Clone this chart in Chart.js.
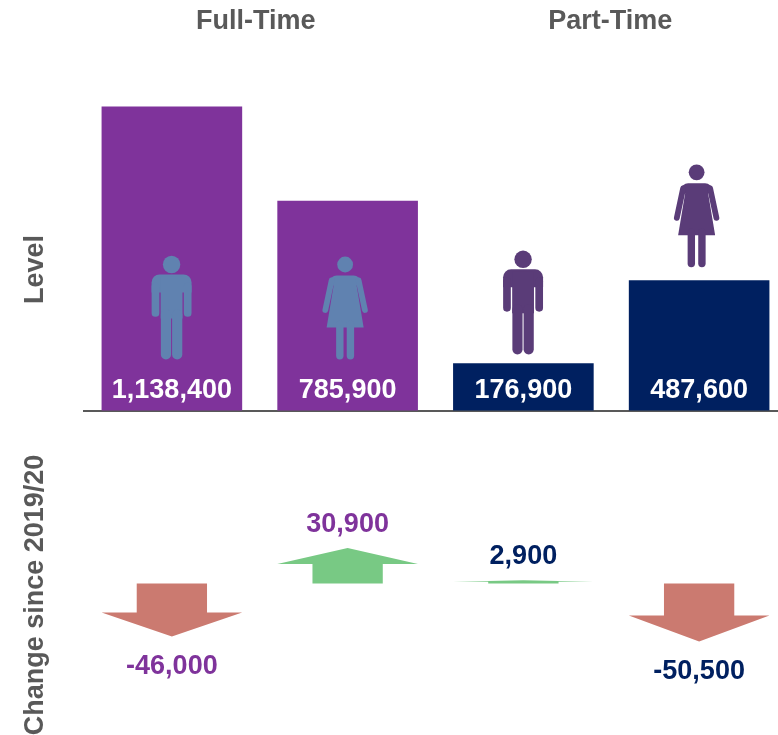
<!DOCTYPE html>
<html>
<head>
<meta charset="utf-8">
<style>
html,body{margin:0;padding:0;background:#fff;overflow:hidden;width:778px;height:735px}
canvas{display:block}
</style>
<script src="https://cdn.jsdelivr.net/npm/chart.js@4"></script>
</head>
<body>
<canvas id="c" width="787" height="735"></canvas>
<script>
const categories = ['Full-Time Men', 'Full-Time Women', 'Part-Time Men', 'Part-Time Women'];
const levels = [1138400, 785900, 176900, 487600];
const changes = [-46000, 30900, 2900, -50500];
const groupTitles = ['Full-Time', 'Part-Time'];
const axisTitles = ['Level', 'Change since 2019/20'];
const genders = ['m', 'f', 'm', 'f'];
const barColors = ['#7F339B', '#7F339B', '#002060', '#002060'];
const iconColors = ['#6082B0', '#6082B0', '#5A3C78', '#5A3C78'];
const labelColors = ['#7F339B', '#7F339B', '#002060', '#002060'];

const FONT = 'bold 27px "Liberation Sans", Arial, sans-serif';
const GREY = '#595959';

function drawMan(ctx, cx, headY) {
  ctx.beginPath(); ctx.arc(cx, headY, 8.7, 0, Math.PI * 2); ctx.fill();
  ctx.beginPath(); ctx.roundRect(cx - 20, headY + 10, 40, 18, [8, 8, 0, 0]); ctx.fill();
  ctx.fillRect(cx - 10.9, headY + 12, 21.8, 42);
  ctx.lineCap = 'round';
  ctx.lineWidth = 7.7;
  [-16.1, 16.1].forEach(d => {
    ctx.beginPath(); ctx.moveTo(cx + d, headY + 22); ctx.lineTo(cx + d, headY + 48.5); ctx.stroke();
  });
  ctx.lineWidth = 10.2;
  [-5.6, 5.6].forEach(d => {
    ctx.beginPath(); ctx.moveTo(cx + d, headY + 50); ctx.lineTo(cx + d, headY + 90); ctx.stroke();
  });
}

function drawWoman(ctx, cx, headY) {
  ctx.beginPath(); ctx.arc(cx, headY, 7.9, 0, Math.PI * 2); ctx.fill();
  ctx.beginPath(); ctx.roundRect(cx - 15.5, headY + 11, 31, 10, [7, 7, 0, 0]); ctx.fill();
  ctx.beginPath();
  ctx.moveTo(cx - 10.5, headY + 15);
  ctx.lineTo(cx - 18.5, headY + 63);
  ctx.lineTo(cx + 18.5, headY + 63);
  ctx.lineTo(cx + 10.5, headY + 15);
  ctx.closePath(); ctx.fill();
  ctx.lineCap = 'round';
  ctx.lineWidth = 5.8;
  [-1, 1].forEach(s => {
    ctx.beginPath(); ctx.moveTo(cx + s * 13.5, headY + 16); ctx.lineTo(cx + s * 19.8, headY + 45.5); ctx.stroke();
  });
  ctx.lineWidth = 7.4;
  [-5.3, 5.3].forEach(d => {
    ctx.beginPath(); ctx.moveTo(cx + d, headY + 60); ctx.lineTo(cx + d, headY + 91.3); ctx.stroke();
  });
}

const marksPlugin = {
  id: 'marks',
  afterDatasetsDraw(chart) {
    const ctx = chart.ctx;
    const bars = chart.getDatasetMeta(0).data;
    const arrows = chart.getDatasetMeta(1).data;
    ctx.save();

    // arrows: geometry comes from each bar element
    arrows.forEach((el, i) => {
      const v = changes[i];
      const half = el.width / 2;
      const len = el.y - el.base;
      const neck = el.base + len * 0.55;
      ctx.fillStyle = v < 0 ? '#CB7A70' : '#78C984';
      ctx.beginPath();
      ctx.moveTo(el.x - half / 2, el.base);
      ctx.lineTo(el.x - half / 2, neck);
      ctx.lineTo(el.x - half, neck);
      ctx.lineTo(el.x, el.y);
      ctx.lineTo(el.x + half, neck);
      ctx.lineTo(el.x + half / 2, neck);
      ctx.lineTo(el.x + half / 2, el.base);
      ctx.closePath();
      ctx.fill();
    });

    // person icons: inside tall bars, standing on short ones
    bars.forEach((el, i) => {
      const inside = levels[i] > 600000;
      const gap = levels[i] > 300000 ? 13 : 9;
      const foot = inside ? el.base - 51 : el.y - gap;
      const headY = foot - 95;
      ctx.fillStyle = ctx.strokeStyle = iconColors[i];
      (genders[i] === 'm' ? drawMan : drawWoman)(ctx, el.x - (genders[i] === 'f' ? 2.5 : 0.3), headY);
    });

    // texts
    ctx.font = FONT;
    ctx.textAlign = 'center';
    ctx.textBaseline = 'middle';
    bars.forEach((el, i) => {
      ctx.fillStyle = '#FFFFFF';
      ctx.fillText(levels[i].toLocaleString('en-GB'), el.x, el.base - 20);
    });
    arrows.forEach((el, i) => {
      const v = changes[i];
      ctx.fillStyle = labelColors[i];
      const y = v < 0 ? el.y + 30 : el.y - 23.5;
      ctx.fillText(v.toLocaleString('en-GB'), el.x, y);
    });

    ctx.fillStyle = GREY;
    ctx.fillText(groupTitles[0], (bars[0].x + bars[1].x) / 2 - 4, 22);
    ctx.fillText(groupTitles[1], (bars[2].x + bars[3].x) / 2 - 1, 22);

    const yZero = chart.scales.yLevel.getPixelForValue(0);
    const cZero = chart.scales.yChange.getPixelForValue(0);
    [[axisTitles[0], yZero - 141], [axisTitles[1], cZero + 11.5]].forEach(([t, y]) => {
      ctx.save();
      ctx.translate(36, y);
      ctx.rotate(-Math.PI / 2);
      ctx.fillText(t, 0, 0);
      ctx.restore();
    });
    ctx.restore();
  }
};

new Chart(document.getElementById('c'), {
  type: 'bar',
  data: {
    labels: categories,
    datasets: [
      { label: 'Level', data: levels, yAxisID: 'yLevel', backgroundColor: barColors, borderWidth: 0, order: 2 },
      { label: 'Change since 2019/20', data: changes, yAxisID: 'yChange', backgroundColor: 'rgba(0,0,0,0)', borderWidth: 0, order: 1 }
    ]
  },
  options: {
    responsive: false,
    animation: false,
    layout: { padding: { left: 84, right: 0, top: 0, bottom: 0 } },
    datasets: { bar: { grouped: false, barPercentage: 0.8, categoryPercentage: 1 } },
    plugins: { legend: { display: false }, tooltip: { enabled: false }, title: { display: false } },
    scales: {
      x: {
        position: { yLevel: 0 },
        grid: { display: false },
        border: { display: true, color: GREY, width: 2 },
        ticks: { display: false }
      },
      yLevel: { display: false, min: -1215243, max: 1537453 },
      yChange: { display: false, min: -131739, max: 507391 }
    }
  },
  plugins: [marksPlugin]
});
</script>
</body>
</html>
